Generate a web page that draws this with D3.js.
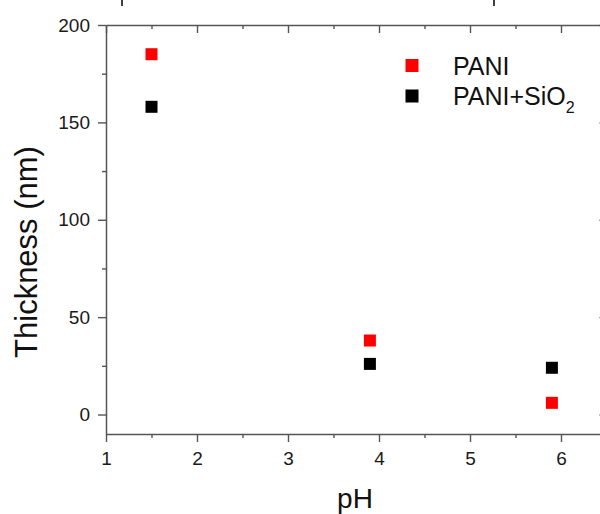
<!DOCTYPE html>
<html><head><meta charset="utf-8">
<script src="https://cdn.jsdelivr.net/npm/d3@7"></script>
<style>body{margin:0;background:#fff}svg{display:block}text{font-family:"Liberation Sans",Arial,sans-serif}</style>
</head><body>
<script>
const pH = [1.5, 3.9, 5.9];
const pani = [185, 38, 6];
const paniSiO2 = [158, 26, 24];
const xTicks = [1, 2, 3, 4, 5, 6];
const yTicks = [0, 50, 100, 150, 200];
const seriesNames = ["PANI", "PANI+SiO"];
const seriesColors = ["#ff0000", "#000000"];

const W = 600, H = 514;
const svg = d3.select("body").append("svg").attr("width", W).attr("height", H);
const x = d3.scaleLinear().domain([1, 6.5]).range([106, 606.5]);
const y = d3.scaleLinear().domain([-10, 200]).range([434, 25]);
const axisColor = "#555";

function styleAxis(g){
  g.selectAll(".domain").attr("stroke", axisColor).attr("stroke-width", 1.5);
  g.selectAll(".tick line").attr("stroke", axisColor).attr("stroke-width", 1.4);
  g.selectAll(".tick text").attr("fill", "#1a1a1a").attr("font-size", 19);
}
const minorX = d3.range(1.5, 6.5, 1);
const minorY = d3.range(25, 200, 50);

// bottom axis
const gb = svg.append("g").attr("transform", `translate(0,${y(-10)})`)
  .call(d3.axisBottom(x).tickValues(xTicks).tickFormat(d3.format("d")).tickSize(8).tickSizeOuter(0).tickPadding(10));
styleAxis(gb);
svg.append("g").attr("transform", `translate(0,${y(-10)})`)
  .call(d3.axisBottom(x).tickValues(minorX).tickFormat("").tickSize(4).tickSizeOuter(0))
  .call(g=>{g.select(".domain").remove();styleAxis(g);});
// top axis (ticks inward)
const gt = svg.append("g").attr("transform", `translate(0,${y(200)})`)
  .call(d3.axisBottom(x).tickValues(xTicks).tickFormat("").tickSize(8).tickSizeOuter(0));
styleAxis(gt);
svg.append("g").attr("transform", `translate(0,${y(200)})`)
  .call(d3.axisBottom(x).tickValues(minorX).tickFormat("").tickSize(4).tickSizeOuter(0))
  .call(g=>{g.select(".domain").remove();styleAxis(g);});
// left axis
const gl = svg.append("g").attr("transform", `translate(${x(1)},0)`)
  .call(d3.axisLeft(y).tickValues(yTicks).tickSize(8).tickSizeOuter(0).tickPadding(8));
styleAxis(gl);
svg.append("g").attr("transform", `translate(${x(1)},0)`)
  .call(d3.axisLeft(y).tickValues(minorY).tickFormat("").tickSize(4).tickSizeOuter(0))
  .call(g=>{g.select(".domain").remove();styleAxis(g);});
// right axis (ticks inward)
const gr = svg.append("g").attr("transform", `translate(${x(6.5)},0)`)
  .call(d3.axisLeft(y).tickValues(yTicks).tickFormat("").tickSize(7).tickSizeOuter(0));
styleAxis(gr);

// stray marks at top edge
[122, 494].forEach(px => svg.append("line").attr("x1", px).attr("x2", px).attr("y1", 0).attr("y2", 6)
  .attr("stroke", "#000").attr("stroke-width", 1.5));

// data
const s = 12;
[[pani, seriesColors[0]], [paniSiO2, seriesColors[1]]].forEach(([vals, c]) => {
  svg.append("g").selectAll("rect").data(vals).join("rect")
    .attr("x", (d, i) => x(pH[i]) - s / 2).attr("y", d => y(d) - s / 2)
    .attr("width", s).attr("height", s).attr("fill", c);
});

// legend
const lg = svg.append("g");
const ls = 13;
seriesNames.forEach((n, i) => {
  const cy = 65.5 + i * 30.5;
  lg.append("rect").attr("x", 405.5).attr("y", cy - ls / 2).attr("width", ls).attr("height", ls).attr("fill", seriesColors[i]);
  const t = lg.append("text").attr("x", 453).attr("y", 75 + i * 30).attr("font-size", 25).attr("fill", "#111").text(n);
  if (i === 1) t.append("tspan").attr("font-size", 16).attr("dy", 8).text("2");
});

// axis titles
svg.append("text").attr("transform", `translate(37,252) rotate(-90)`).attr("text-anchor", "middle")
  .attr("font-size", 31).attr("fill", "#111").text("Thickness (nm)");
svg.append("text").attr("x", 355).attr("y", 508).attr("text-anchor", "middle")
  .attr("font-size", 28).attr("fill", "#111").text("pH");
</script>
</body></html>
